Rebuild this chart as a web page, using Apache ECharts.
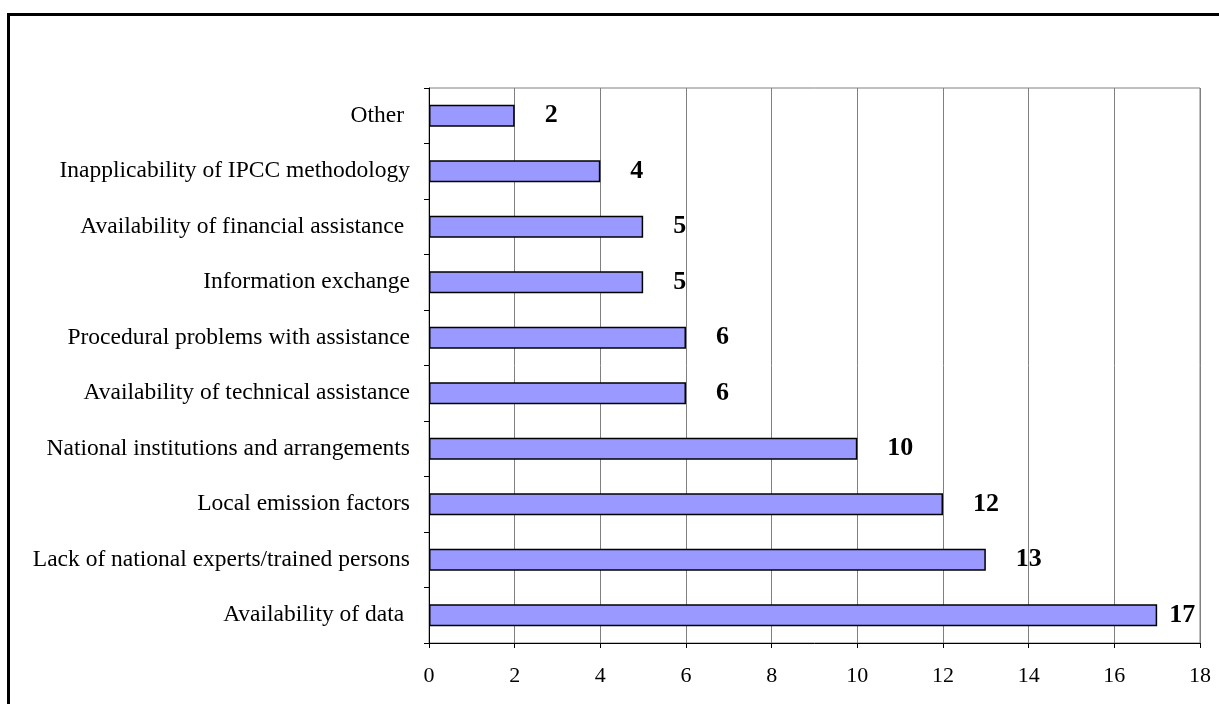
<!DOCTYPE html>
<html>
<head>
<meta charset="utf-8">
<script src="https://cdn.jsdelivr.net/npm/echarts@6/dist/echarts.min.js"></script>
<style>
html,body{margin:0;padding:0;background:#fff;}
#c{width:1219px;height:704px;}
</style>
</head>
<body>
<div id="c"></div>
<script>
const categories = [
  "Other ",
  "Inapplicability of IPCC methodology",
  "Availability of financial assistance ",
  "Information exchange",
  "Procedural problems with assistance",
  "Availability of technical assistance",
  "National institutions and arrangements",
  "Local emission factors",
  "Lack of national experts/trained persons",
  "Availability of data "
];
const values = [2, 4, 5, 5, 6, 6, 10, 12, 13, 17];
const xTicks = { min: 0, max: 18, interval: 2 };

const chart = echarts.init(document.getElementById('c'));
const maxVal = Math.max.apply(null, values);
chart.setOption({
  animation: false,
  backgroundColor: '#fff',
  graphic: [{
    type: 'rect',
    shape: { x: 8.5, y: 14.5, width: 1240, height: 720 },
    style: { fill: 'none', stroke: '#000', lineWidth: 3 },
    silent: true
  }],
  grid: {
    left: 429, right: 19, top: 88, bottom: 61,
    show: true, borderColor: '#808080', borderWidth: 1, backgroundColor: 'transparent'
  },
  xAxis: {
    type: 'value',
    min: xTicks.min, max: xTicks.max, interval: xTicks.interval,
    axisLine: { show: true, lineStyle: { color: '#000', width: 1 } },
    axisTick: { show: true, length: 5, lineStyle: { color: '#000' } },
    axisLabel: { color: '#000', fontFamily: 'Liberation Serif', fontSize: 22, margin: 22 },
    splitLine: { show: true, lineStyle: { color: '#808080', width: 1 } }
  },
  yAxis: {
    type: 'category',
    inverse: true,
    data: categories,
    axisLine: { show: true, lineStyle: { color: '#000', width: 1 } },
    axisTick: { show: true, length: 5, alignWithLabel: false, lineStyle: { color: '#000' } },
    axisLabel: { color: '#000', fontFamily: 'Liberation Serif', fontSize: 23.5, margin: 19 },
    splitLine: { show: false }
  },
  series: [{
    type: 'bar',
    data: values.map(v => v === maxVal ? { value: v, label: { distance: 12 } } : v),
    barWidth: 22,
    itemStyle: { color: '#9999FF', borderColor: '#000', borderWidth: 1.5 },
    label: {
      show: true, position: 'right', distance: 30,
      color: '#000', fontFamily: 'Liberation Serif', fontWeight: 'bold', fontSize: 26
    }
  }]
});
</script>
</body>
</html>
